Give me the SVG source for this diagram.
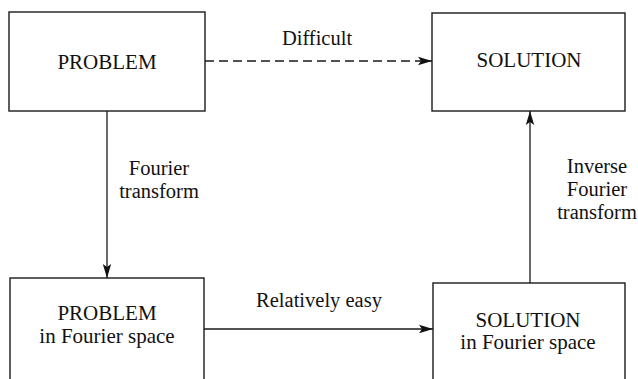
<svg xmlns="http://www.w3.org/2000/svg" width="638" height="379" viewBox="0 0 638 379">
<defs>
<style>
.box{fill:none;stroke:#1a1a1a;stroke-width:1.4}
.ln{fill:none;stroke:#1a1a1a;stroke-width:1.3}
.dash{stroke-dasharray:9 5}
.t{font-family:"Liberation Serif","Times New Roman",serif;font-size:21px;fill:#111;text-anchor:middle}
.l{font-family:"Liberation Serif","Times New Roman",serif;font-size:20.5px;fill:#111;text-anchor:middle}
</style>
<marker id="ah" viewBox="0 0 14 10" refX="14" refY="5" markerWidth="14" markerHeight="10" markerUnits="userSpaceOnUse" orient="auto">
<path d="M0,0.8 L14,5 L0,9.2 L3,5 Z" fill="#111"/>
</marker>
</defs>
<g id="problem">
<rect class="box" x="9" y="12" width="196" height="99"/>
<text class="t" x="107" y="69">PROBLEM</text>
</g>
<g id="solution">
<rect class="box" x="432" y="13" width="193" height="98"/>
<text class="t" x="529" y="67">SOLUTION</text>
</g>
<g id="problem-fourier">
<rect class="box" x="10" y="278" width="194" height="120"/>
<text class="t" x="107" y="320">PROBLEM</text>
<text class="t" x="107" y="343">in Fourier space</text>
</g>
<g id="solution-fourier">
<rect class="box" x="433" y="283" width="192" height="120"/>
<text class="t" x="528" y="327">SOLUTION</text>
<text class="t" x="528" y="349">in Fourier space</text>
</g>
<g id="connectors">
<line class="ln dash" x1="205" y1="61" x2="432" y2="61" marker-end="url(#ah)"/>
<line class="ln" x1="107" y1="111" x2="107" y2="278" marker-end="url(#ah)"/>
<line class="ln" x1="204" y1="329" x2="433" y2="329" marker-end="url(#ah)"/>
<line class="ln" x1="530" y1="283" x2="530" y2="111" marker-end="url(#ah)"/>
<text class="l" x="317" y="45">Difficult</text>
<text class="l" x="159" y="175">Fourier</text>
<text class="l" x="159" y="198">transform</text>
<text class="l" x="319" y="307">Relatively easy</text>
<text class="l" x="597" y="173">Inverse</text>
<text class="l" x="597" y="196">Fourier</text>
<text class="l" x="597" y="219">transform</text>
</g>
</svg>
